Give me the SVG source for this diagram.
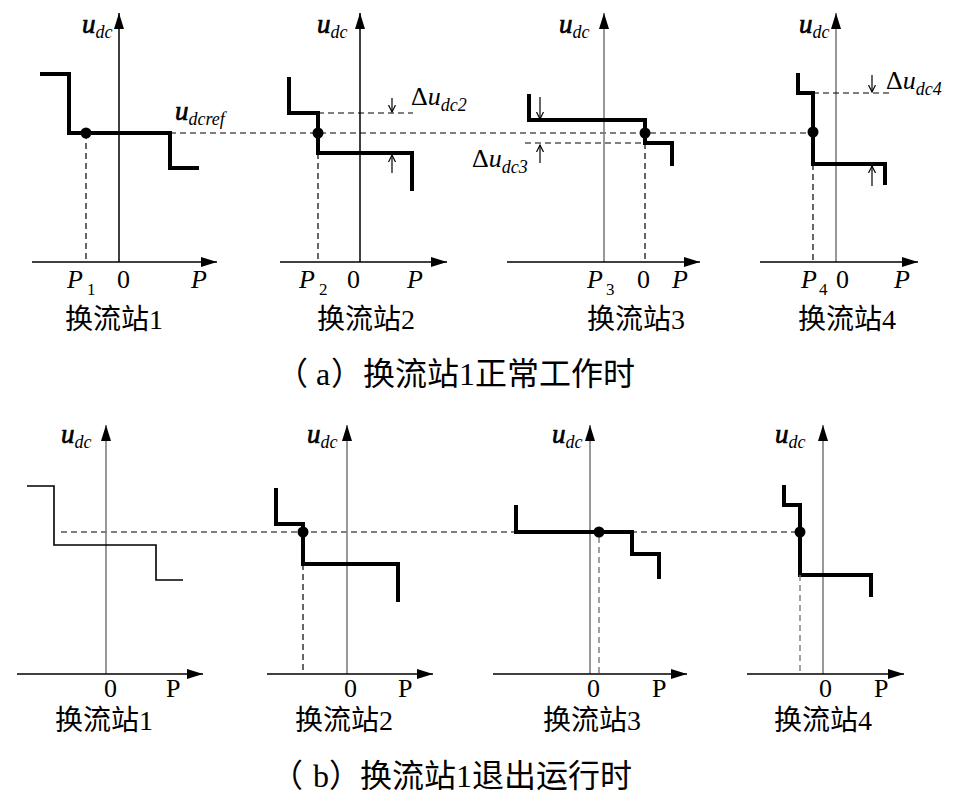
<svg xmlns="http://www.w3.org/2000/svg" width="977" height="807" viewBox="0 0 977 807">
<style>
.ax{stroke:#000;stroke-width:1.5;fill:none;marker-end:url(#ah)}
.axg{stroke:#7f7f7f;stroke-width:1.6;fill:none;marker-end:url(#ah)}
.crv{stroke:#000;stroke-width:4;fill:none;stroke-linejoin:miter}
.thin{stroke:#000;stroke-width:1.6;fill:none}
.dash{stroke:#000;stroke-width:1.2;stroke-dasharray:6 4;fill:none}
.dashg{stroke:#7a7a7a;stroke-width:1.4;stroke-dasharray:6 4;fill:none}
.dm{stroke:#000;stroke-width:1.2;fill:none;marker-end:url(#oh)}
text{font-family:"Liberation Serif","Noto Sans CJK SC",serif;fill:#000}
.cjk{font-size:28px}
.cap{font-size:32px}
.t{font-size:26px}
.it{font-style:italic}
.u{font-style:italic;font-size:27px}
.ub{stroke:#000;stroke-width:0.7}
.sub{font-size:18px;font-style:italic;stroke:none}
.subn{font-size:17px;font-style:normal}
</style>
<defs>
<marker id="ah" markerWidth="16" markerHeight="10" refX="16" refY="5" orient="auto" markerUnits="userSpaceOnUse"><path d="M0,0 L16,5 L0,10 z" fill="#000"/></marker>
<marker id="oh" markerWidth="10" markerHeight="10" refX="7" refY="4" orient="auto" markerUnits="userSpaceOnUse"><path d="M0,0.5 L7,4 L0,7.5" fill="none" stroke="#000" stroke-width="1.2"/></marker>
</defs>

<g id="connectors">
<line class="dash" x1="170" y1="133" x2="813" y2="133"/>
<line class="dash" x1="61" y1="532" x2="800" y2="532"/>
</g>

<g id="top-station1">
<line class="ax" x1="119" y1="262" x2="119" y2="13"/>
<line class="ax" x1="32" y1="262" x2="217" y2="262"/>
<polyline class="crv" points="40,74 69,74 69,133 170,133 170,168 199,168"/>
<line class="dash" x1="86" y1="133" x2="86" y2="262"/>
<circle cx="86" cy="133" r="5.5"/>
<text x="82" y="33" class="u"><tspan class="ub">u</tspan><tspan class="sub" dy="5">dc</tspan></text>
<text x="175" y="120" class="u"><tspan class="ub">u</tspan><tspan class="sub" dy="5">dcref</tspan></text>
<text x="67" y="288" class="t it">P<tspan class="subn" x="87" dy="7">1</tspan></text>
<text x="117" y="288" class="t">0</text>
<text x="191" y="288" class="t it">P</text>
<text x="65" y="329" class="cjk">换流站1</text>
</g>

<g id="top-station2">
<line class="ax" x1="360" y1="262" x2="360" y2="13"/>
<line class="ax" x1="280" y1="262" x2="447" y2="262"/>
<polyline class="crv" points="289,77 289,113 318,113 318,153 412,153 412,191"/>
<line class="dash" x1="318" y1="113" x2="413" y2="113"/>
<line class="dash" x1="318" y1="153" x2="318" y2="262"/>
<circle cx="318" cy="133" r="5.5"/>
<line class="dm" x1="392" y1="98" x2="392" y2="112"/>
<line class="dm" x1="392" y1="173" x2="392" y2="155"/>
<text x="411" y="105" class="t">Δ<tspan class="it">u</tspan><tspan class="sub" dy="6">dc2</tspan></text>
<text x="317" y="33" class="u"><tspan class="ub">u</tspan><tspan class="sub" dy="5">dc</tspan></text>
<text x="299" y="288" class="t it">P<tspan class="subn" x="319" dy="7">2</tspan></text>
<text x="347" y="288" class="t">0</text>
<text x="407" y="288" class="t it">P</text>
<text x="317" y="329" class="cjk">换流站2</text>
</g>

<g id="top-station3">
<line class="axg" x1="604" y1="262" x2="604" y2="13"/>
<line class="ax" x1="507" y1="262" x2="700" y2="262"/>
<polyline class="crv" points="529,94 529,120 645,120 645,143 672,143 672,166"/>
<line class="dash" x1="525" y1="143" x2="645" y2="143"/>
<line class="dash" x1="645" y1="143" x2="645" y2="262"/>
<circle cx="645" cy="133" r="5.5"/>
<line class="dm" x1="540" y1="97" x2="540" y2="119"/>
<line class="dm" x1="540" y1="163" x2="540" y2="145"/>
<text x="472" y="167" class="t">Δ<tspan class="it">u</tspan><tspan class="sub" dy="6">dc3</tspan></text>
<text x="559" y="33" class="u"><tspan class="ub">u</tspan><tspan class="sub" dy="5">dc</tspan></text>
<text x="587" y="288" class="t it">P<tspan class="subn" x="606" dy="7">3</tspan></text>
<text x="637" y="288" class="t">0</text>
<text x="672" y="288" class="t it">P</text>
<text x="587" y="329" class="cjk">换流站3</text>
</g>

<g id="top-station4">
<line class="axg" x1="836" y1="262" x2="836" y2="13"/>
<line class="ax" x1="760" y1="262" x2="918" y2="262"/>
<polyline class="crv" points="798,73 798,93 813,93 813,164 885,164 885,185"/>
<line class="dash" x1="813" y1="93" x2="892" y2="93"/>
<line class="dash" x1="813" y1="164" x2="813" y2="262"/>
<circle cx="813" cy="132" r="5.5"/>
<line class="dm" x1="872" y1="75" x2="872" y2="92"/>
<line class="dm" x1="872" y1="186" x2="872" y2="166"/>
<text x="886" y="89" class="t">Δ<tspan class="it">u</tspan><tspan class="sub" dy="6">dc4</tspan></text>
<text x="799" y="33" class="u"><tspan class="ub">u</tspan><tspan class="sub" dy="5">dc</tspan></text>
<text x="801" y="288" class="t it">P<tspan class="subn" x="819" dy="7">4</tspan></text>
<text x="836" y="288" class="t">0</text>
<text x="894" y="288" class="t it">P</text>
<text x="798" y="329" class="cjk">换流站4</text>
</g>

<text id="caption-a" x="276" y="385" class="cap">（<tspan x="316">a</tspan><tspan x="331">）</tspan><tspan x="363">换流站1正常工作时</tspan></text>

<g id="bottom-station1">
<line class="axg" x1="106" y1="674" x2="106" y2="425"/>
<line class="ax" x1="17" y1="674" x2="203" y2="674"/>
<polyline class="thin" points="27,486 54,486 54,545 156,545 156,580 183,580"/>
<text x="61" y="443" class="u"><tspan class="ub">u</tspan><tspan class="sub" dy="5">dc</tspan></text>
<text x="104" y="697" class="t">0</text>
<text x="166" y="697" class="t">P</text>
<text x="55" y="730" class="cjk">换流站1</text>
</g>

<g id="bottom-station2">
<line class="axg" x1="347" y1="674" x2="347" y2="425"/>
<line class="ax" x1="267" y1="674" x2="433" y2="674"/>
<polyline class="crv" points="276,488 276,524 303,524 303,564 398,564 398,602"/>
<line class="dash" x1="303" y1="564" x2="303" y2="674"/>
<circle cx="303" cy="532" r="5.5"/>
<text x="307" y="443" class="u"><tspan class="ub">u</tspan><tspan class="sub" dy="5">dc</tspan></text>
<text x="344" y="697" class="t">0</text>
<text x="398" y="697" class="t">P</text>
<text x="295" y="730" class="cjk">换流站2</text>
</g>

<g id="bottom-station3">
<line class="axg" x1="590" y1="674" x2="590" y2="425"/>
<line class="ax" x1="493" y1="674" x2="687" y2="674"/>
<polyline class="crv" points="516,505 516,532 632,532 632,554 659,554 659,579"/>
<line class="dashg" x1="599" y1="537" x2="599" y2="674"/>
<circle cx="599" cy="532" r="5.5"/>
<text x="552" y="443" class="u"><tspan class="ub">u</tspan><tspan class="sub" dy="5">dc</tspan></text>
<text x="587" y="697" class="t">0</text>
<text x="652" y="697" class="t">P</text>
<text x="543" y="730" class="cjk">换流站3</text>
</g>

<g id="bottom-station4">
<line class="axg" x1="823" y1="674" x2="823" y2="425"/>
<line class="ax" x1="747" y1="674" x2="904" y2="674"/>
<polyline class="crv" points="784,485 784,505 800,505 800,575 871,575 871,597"/>
<line class="dashg" x1="800" y1="575" x2="800" y2="674"/>
<circle cx="800" cy="532" r="5.5"/>
<text x="775" y="443" class="u"><tspan class="ub">u</tspan><tspan class="sub" dy="5">dc</tspan></text>
<text x="819" y="697" class="t">0</text>
<text x="874" y="697" class="t">P</text>
<text x="774" y="730" class="cjk">换流站4</text>
</g>

<text id="caption-b" x="271" y="787" class="cap">（<tspan x="313">b</tspan><tspan x="329">）</tspan><tspan x="360">换流站1退出运行时</tspan></text>
</svg>
